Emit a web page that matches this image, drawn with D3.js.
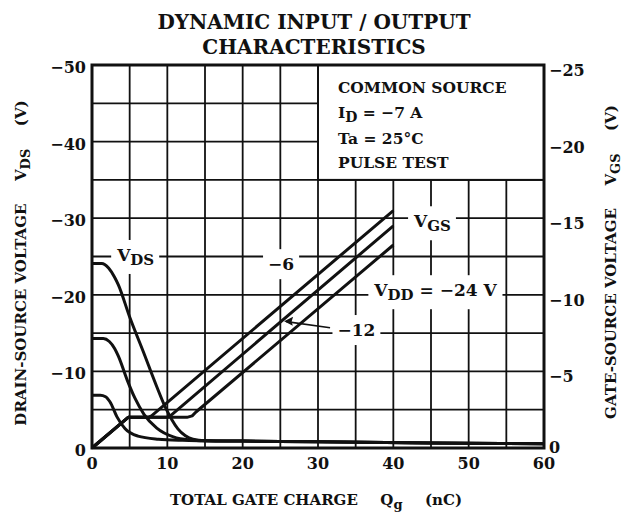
<!DOCTYPE html>
<html>
<head>
<meta charset="utf-8">
<script src="https://cdn.jsdelivr.net/npm/d3@7"></script>
<style>
  body { margin: 0; background: #fff; }
  svg text { font-family: "DejaVu Serif", serif; fill: #111; }
</style>
</head>
<body>
<div id="chart"></div>
<script>
// ---------------------------------------------------------
// DATA
// ---------------------------------------------------------
var chargeTicks = [0, 10, 20, 30, 40, 50, 60];
var vdsTicks = [0, -10, -20, -30, -40, -50];
var vgsTicks = [0, -5, -10, -15, -20, -25];

// drain-source voltage curves, [Qg nC, VDS V]
var vdsHigh = [[0,-24.1],[1.3,-24.1],[2.2,-23.5],[3,-22.3],[3.5,-21.3],[5,-17.1],[6.8,-12.6],[8.6,-8.0],[9.7,-5.4],[10.6,-3.7],[11.4,-2.5],[12.4,-1.6],[13.4,-1.15],[15,-0.95],[20,-0.9],[30,-0.8],[45,-0.65],[60,-0.55]];
var vdsMid = [[0,-14.3],[1.5,-14.3],[2.3,-13.9],[3,-13.0],[3.5,-12.0],[4.7,-8.8],[5.7,-6.5],[6.9,-4.4],[8.6,-2.6],[10.8,-1.45],[13,-1.05],[15,-0.95],[20,-0.9],[30,-0.8],[45,-0.65],[60,-0.55]];
var vdsLow = [[0,-6.9],[1.1,-6.9],[1.8,-6.7],[2.4,-6.0],[3.3,-4.1],[4.4,-2.5],[6.1,-1.55],[8.8,-1.15],[12,-1.0],[15,-0.95],[20,-0.9],[30,-0.8],[45,-0.65],[60,-0.55]];

// gate-source voltage curves, [Qg nC, VGS V]
var vgs6 = [[0,0],[4.8,-2.0],[7.5,-2.0],[7.9,-2.1],[40,-15.5]];
var vgs12 = [[0,0],[4.8,-2.0],[10.0,-2.0],[10.4,-2.1],[40,-14.5]];
var vgs24 = [[0,0],[4.8,-2.0],[12.6,-2.0],[13.3,-2.1],[13.8,-2.35],[40,-13.25]];

// ---------------------------------------------------------
// CANVAS
// ---------------------------------------------------------
var W = 631, H = 515;
var margin = {top: 65, right: 87, bottom: 67, left: 92},
    width = W - margin.left - margin.right,
    height = H - margin.top - margin.bottom;

var root = d3.select("#chart").append("svg")
    .attr("width", W)
    .attr("height", H);

var svg = root.append("g")
    .attr("transform", "translate(" + margin.left + "," + margin.top + ")");

var x = d3.scaleLinear().domain([0, 60]).range([0, width]);
var yL = d3.scaleLinear().domain([0, -50]).range([height, 0]);
var yR = d3.scaleLinear().domain([0, -25]).range([height, 0]);

var fmt = function(d) { return d < 0 ? "\u2212" + Math.abs(d) : "" + d; };

// grid
svg.append("g").selectAll("line.gx")
  .data(x.ticks(12))
  .enter().append("line")
    .attr("x1", d => x(d)).attr("x2", d => x(d))
    .attr("y1", 0).attr("y2", height)
    .attr("stroke", "#111").attr("stroke-width", 1.8);

svg.append("g").selectAll("line.gy")
  .data(yL.ticks(10))
  .enter().append("line")
    .attr("x1", 0).attr("x2", width)
    .attr("y1", d => yL(d)).attr("y2", d => yL(d))
    .attr("stroke", "#111").attr("stroke-width", 1.8);

// condition box (clears grid)
svg.append("rect")
    .attr("x", x(30)).attr("y", 0)
    .attr("width", x(60) - x(30)).attr("height", yL(-35))
    .attr("fill", "#fff").attr("stroke", "#111").attr("stroke-width", 2);

var cond = svg.append("g").attr("transform", "translate(" + (x(30) + 20) + ",0)");
cond.append("text").attr("y", 28).style("font-size", "15.5px").style("font-weight", "bold").text("COMMON SOURCE");
var c2 = cond.append("text").attr("y", 53).style("font-size", "15.5px").style("font-weight", "bold");
c2.append("tspan").text("I");
c2.append("tspan").attr("dy", 4).style("font-size", "14px").text("D");
c2.append("tspan").attr("dy", -4).text(" = \u22127 A");
cond.append("text").attr("y", 79).style("font-size", "15.5px").style("font-weight", "bold").text("Ta = 25\u00b0C");
cond.append("text").attr("y", 103).style("font-size", "15.5px").style("font-weight", "bold").text("PULSE TEST");

// curve labels with white backing
function label(parts, qx, yv, scale) {
  var g = svg.append("g");
  var t = g.append("text")
      .attr("x", x(qx)).attr("y", scale(yv) + 6)
      .attr("text-anchor", "middle")
      .style("font-size", "17px").style("font-weight", "bold");
  parts.forEach(function(p) {
    var s = t.append("tspan").text(p[0]);
    if (p[1]) s.attr("dy", p[1]);
    if (p[2]) s.style("font-size", p[2]);
  });
  var b = t.node().getBBox();
  g.insert("rect", "text")
      .attr("x", b.x - 5).attr("y", b.y - 5)
      .attr("width", b.width + 10).attr("height", b.height + 10)
      .attr("fill", "#fff");
  return g;
}

label([["V"], ["DS", 4, "15px"]], 5.8, -25.2, yL);
label([["\u22126"]], 25.1, -24.0, yL);
label([["V"], ["GS", 4, "15px"]], 45.2, -14.8, yR);
label([["V"], ["DD", 4, "15px"], [" = \u221224 V", -4]], 45.6, -10.3, yR);
label([["\u221212"]], 35.1, -7.7, yR);

// curves
var lineL = d3.line().x(d => x(d[0])).y(d => yL(d[1])).curve(d3.curveMonotoneX);
var lineR = d3.line().x(d => x(d[0])).y(d => yR(d[1]));

[vdsHigh, vdsMid, vdsLow].forEach(function(s) {
  svg.append("path").datum(s).attr("d", lineL)
    .attr("fill", "none").attr("stroke", "#111").attr("stroke-width", 3)
    .attr("stroke-linejoin", "round");
});
[vgs6, vgs12, vgs24].forEach(function(s) {
  svg.append("path").datum(s).attr("d", lineR)
    .attr("fill", "none").attr("stroke", "#111").attr("stroke-width", 3)
    .attr("stroke-linejoin", "round");
});

// leader arrow for -12
svg.append("line")
    .attr("x1", x(31.6)).attr("y1", yR(-7.85))
    .attr("x2", x(25.8)).attr("y2", yR(-8.25))
    .attr("stroke", "#111").attr("stroke-width", 1.6);
svg.append("path")
    .attr("d", "M" + x(25.5) + "," + yR(-8.28) + "l9,-4.5l-1.5,4.8l1.2,4.2z")
    .attr("fill", "#111");

// frame
svg.append("rect")
    .attr("width", width).attr("height", height)
    .attr("fill", "none").attr("stroke", "#111").attr("stroke-width", 3);

// tick labels
svg.append("g").selectAll("text")
  .data(vdsTicks).enter().append("text")
    .attr("x", -6).attr("y", d => yL(d) + 8)
    .attr("text-anchor", "end")
    .style("font-size", "16px").style("font-weight", "bold")
    .text(fmt);

svg.append("g").selectAll("text")
  .data(vgsTicks).enter().append("text")
    .attr("x", width + 5).attr("y", d => yR(d) + (d === 0 ? 5 : 11))
    .style("font-size", "16px").style("font-weight", "bold")
    .text(fmt);

svg.append("g").selectAll("text")
  .data(chargeTicks).enter().append("text")
    .attr("x", d => x(d)).attr("y", height + 21)
    .attr("text-anchor", "middle")
    .style("font-size", "16px").style("font-weight", "bold")
    .text(fmt);

// titles
root.append("text").attr("x", 314).attr("y", 29).attr("text-anchor", "middle")
    .style("font-size", "20px").style("font-weight", "bold").text("DYNAMIC INPUT / OUTPUT");
root.append("text").attr("x", 314).attr("y", 54).attr("text-anchor", "middle")
    .style("font-size", "20px").style("font-weight", "bold").text("CHARACTERISTICS");

var xt = root.append("text").attr("x", 316).attr("y", 505).attr("text-anchor", "middle")
    .style("font-size", "15px").style("font-weight", "bold");
xt.append("tspan").text("TOTAL GATE CHARGE\u2003\u2002Q");
xt.append("tspan").attr("dy", 4).style("font-size", "13px").text("g");
xt.append("tspan").attr("dy", -4).text("\u2003\u2002(nC)");

var yt = root.append("text").attr("transform", "translate(26,263) rotate(-90)")
    .attr("text-anchor", "middle").style("font-size", "15px").style("font-weight", "bold");
yt.append("tspan").text("DRAIN-SOURCE VOLTAGE\u2003\u2002V");
yt.append("tspan").attr("dy", 4).style("font-size", "13px").text("DS");
yt.append("tspan").attr("dy", -4).text("\u2003\u2002(V)");

var yt2 = root.append("text").attr("transform", "translate(616,262) rotate(-90)")
    .attr("text-anchor", "middle").style("font-size", "15px").style("font-weight", "bold");
yt2.append("tspan").text("GATE-SOURCE VOLTAGE\u2003\u2002V");
yt2.append("tspan").attr("dy", 4).style("font-size", "13px").text("GS");
yt2.append("tspan").attr("dy", -4).text("\u2003\u2002(V)");
</script>
</body>
</html>
